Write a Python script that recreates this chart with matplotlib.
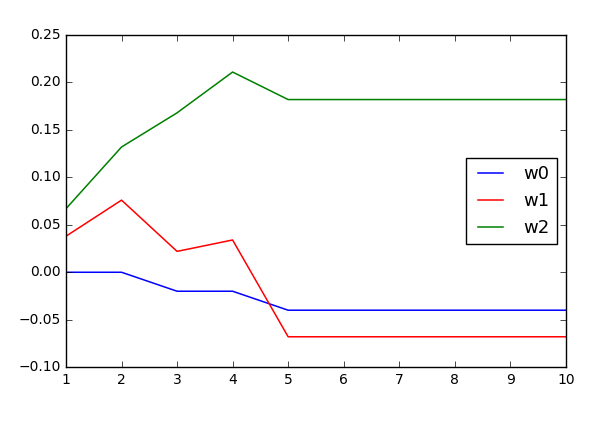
import numpy as np
import matplotlib
matplotlib.use("Agg")
import matplotlib.pyplot as plt

plt.style.use("classic")

# iterations and weight values
iterations = [1, 2, 3, 4, 5, 6, 7, 8, 9, 10]
w0 = [0.0, 0.0, -0.02, -0.02, -0.04, -0.04, -0.04, -0.04, -0.04, -0.04]
w1 = [0.038, 0.076, 0.022, 0.034, -0.068, -0.068, -0.068, -0.068, -0.068, -0.068]
w2 = [0.067, 0.132, 0.168, 0.211, 0.182, 0.182, 0.182, 0.182, 0.182, 0.182]

fig = plt.figure(figsize=(6, 4.22), dpi=100)
ax = fig.add_subplot(111)
fig.subplots_adjust(left=0.11, right=0.943, top=0.917, bottom=0.13)

ax.plot(iterations, w0, color="b", label="w0", lw=1.1)
ax.plot(iterations, w1, color="r", label="w1", lw=1.1)
ax.plot(iterations, w2, color="g", label="w2", lw=1.1)

ax.set_xlim(1, 10)
ax.set_ylim(-0.10, 0.25)
ax.tick_params(labelsize=10)
ax.legend(loc="center right", fontsize=13, borderaxespad=0.5)

plt.savefig("out.png", dpi=100)
